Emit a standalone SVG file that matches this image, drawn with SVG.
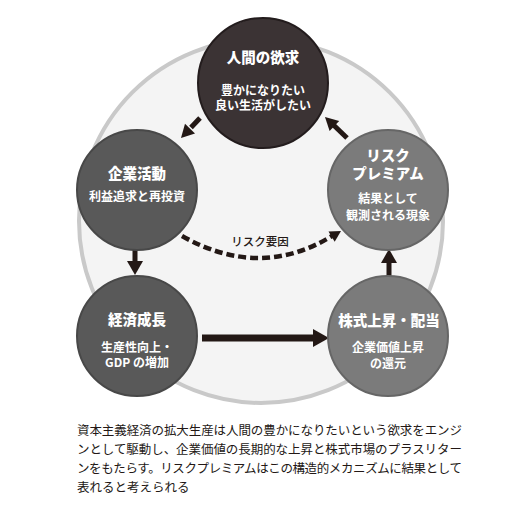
<svg xmlns="http://www.w3.org/2000/svg" width="522" height="512" viewBox="0 0 522 512">
<style>
text{font-family:"Noto Sans CJK JP","Noto Sans",sans-serif;text-anchor:middle;}
.t{font-size:14.5px;font-weight:900;fill:#ffffff;}
.s{font-size:12px;font-weight:700;fill:#ffffff;}
.cap{font-size:12.5px;font-weight:400;fill:#231815;text-anchor:start;}
.lbl{font-size:11.5px;font-weight:500;fill:#231815;}
.n1{fill:#3b3334;stroke:#231c1d;stroke-width:2;}
.n2{fill:#595959;stroke:#484848;stroke-width:2;}
.n3{fill:#7b7b7b;stroke:#666666;stroke-width:2;}
.ln{stroke:#231815;fill:none;}
.hd{fill:#231815;}
</style>
<rect width="522" height="512" fill="#ffffff"/>
<circle id="ring" cx="261" cy="221" r="182" fill="#f4f4f4" stroke="#c9c9c9" stroke-width="4"/>
<g id="connectors">
  <line class="ln" x1="200" y1="118" x2="191" y2="127.5" stroke-width="5"/>
  <polygon class="hd" points="181,138 195,133.4 185,123.8"/>
  <line class="ln" x1="347" y1="138" x2="333" y2="124.5" stroke-width="5"/>
  <polygon class="hd" points="325,117 339.2,120.9 329.6,131.1"/>
  <line class="ln" x1="135" y1="250" x2="135" y2="262" stroke-width="5"/>
  <polygon class="hd" points="127,261 143,261 135,275"/>
  <line class="ln" x1="389" y1="276" x2="389" y2="262" stroke-width="5"/>
  <polygon class="hd" points="381,263 397,263 389,249"/>
  <line class="ln" x1="202" y1="338" x2="314" y2="338" stroke-width="7"/>
  <polygon class="hd" points="313,329 329,338 313,347"/>
  <path class="ln" d="M182,236 Q260,280 332,236" stroke-width="4.5" stroke-dasharray="8 4"/>
  <polygon class="hd" points="341,231 334.7,241.8 328.5,231.6"/>
  <text class="lbl" x="260" y="246">リスク要因</text>
</g>
<g id="node-desire">
  <circle class="n1" cx="263" cy="83" r="65"/>
  <text class="t" x="263" y="62.5">人間の欲求</text>
  <text class="s" x="263" y="95">豊かになりたい</text>
  <text class="s" x="263" y="110">良い生活がしたい</text>
</g>
<g id="node-corp">
  <circle class="n2" cx="137" cy="190" r="60"/>
  <text class="t" x="137" y="178.5">企業活動</text>
  <text class="s" x="137" y="200.5">利益追求と再投資</text>
</g>
<g id="node-growth">
  <circle class="n2" cx="137" cy="336" r="60"/>
  <text class="t" x="137" y="324.5">経済成長</text>
  <text class="s" x="137" y="352">生産性向上・</text>
  <text class="s" x="137" y="367">GDP の増加</text>
</g>
<g id="node-stock">
  <circle class="n3" cx="388" cy="336" r="60"/>
  <text class="t" x="389" y="325.5">株式上昇・配当</text>
  <text class="s" x="388" y="352">企業価値上昇</text>
  <text class="s" x="388" y="367.5">の還元</text>
</g>
<g id="node-risk">
  <circle class="n3" cx="388" cy="190" r="60"/>
  <text class="t" x="388" y="160.5">リスク</text>
  <text class="t" x="388" y="178.5">プレミアム</text>
  <text class="s" x="388" y="202.5">結果として</text>
  <text class="s" x="388" y="219.5">観測される現象</text>
</g>
<g id="caption">
  <text class="cap" x="77" y="434.7" textLength="385">資本主義経済の拡大生産は人間の豊かになりたいという欲求をエンジ</text>
  <text class="cap" x="77" y="453.7" textLength="385">ンとして駆動し、企業価値の長期的な上昇と株式市場のプラスリター</text>
  <text class="cap" x="77" y="472.7" textLength="385">ンをもたらす。リスクプレミアムはこの構造的メカニズムに結果として</text>
  <text class="cap" x="77" y="491.7">表れると考えられる</text>
</g>
</svg>
